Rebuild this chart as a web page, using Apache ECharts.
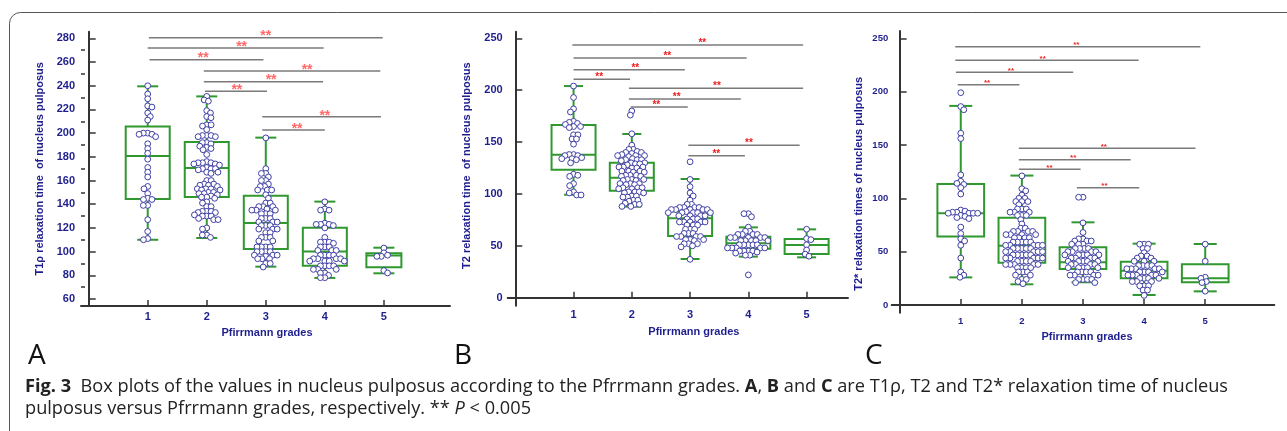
<!DOCTYPE html>
<html>
<head>
<meta charset="utf-8">
<script src="https://cdn.jsdelivr.net/npm/echarts@6/dist/echarts.min.js"></script>
<style>
  html, body { margin: 0; padding: 0; background: #fff; }
  #chart { width: 1287px; height: 431px; }
</style>
</head>
<body>
<div id="chart"></div>
<script>
// grades on the x axis
var grades = [1, 2, 3, 4, 5];

// tick labels
var t1rhoTicks = [60, 80, 100, 120, 140, 160, 180, 200, 220, 240, 260, 280];
var t1rhoMinorTicks = [70, 90, 110, 130, 150, 170, 190, 210, 230, 250, 270];
var t2Ticks = [0, 50, 100, 150, 200, 250];
var t2starTicks = [0, 50, 100, 150, 200, 250];

// box plots: [min, Q1, median, Q3, max] per grade
var t1rhoBox = [[110, 144.4, 180.7, 205.5, 239.5], [111.5, 146.1, 170.6, 192.5, 231], [87.3, 102.2, 124.2, 147.2, 196.2], [77.8, 88.1, 100, 120.2, 142.2], [81.7, 86.8, 96.7, 98.6, 103.3]];
var t2Box = [[99.3, 123.4, 137.9, 166.5, 204], [87.8, 103.2, 115.7, 130.2, 157.8], [37.3, 59.5, 76.5, 83.2, 114.4], [39.6, 47.3, 52.4, 58.8, 67.8], [38.9, 42.1, 50.8, 56.6, 65.9]];
var t2starBox = [[25.9, 64.1, 85.9, 113.4, 186.6], [19.4, 39.7, 55.6, 81.9, 121.3], [21.3, 33.8, 40, 54.1, 77.5], [9.4, 25, 32.2, 40.6, 57.5], [12.8, 21.3, 25, 38.1, 57.2]];

// individual values, T1rho
var t1rhoGrade1 = [240, 233, 229, 223, 222, 217, 214, 211, 200, 200, 199, 199, 197, 191, 187, 183, 178, 171, 167, 163, 155, 153, 149, 145, 144, 144, 139, 139, 127, 117, 111, 110];
var t1rhoGrade2 = [231, 228, 227, 219, 217, 214, 213, 207, 207, 206, 203, 198, 198, 198, 197, 197, 192, 192, 191, 189, 188, 187, 186, 182, 176, 175, 175, 175, 174, 174, 173, 171, 170, 170, 170, 169, 167, 167, 166, 160, 160, 157, 157, 156, 156, 155, 153, 153, 153, 152, 152, 150, 150, 149, 149, 148, 147, 146, 146, 145, 142, 141, 138, 138, 134, 134, 134, 133, 133, 131, 130, 130, 130, 128, 127, 127, 120, 119, 114, 114, 112];
var t1rhoGrade3 = [196, 170, 166, 166, 163, 160, 160, 157, 155, 155, 152, 152, 152, 148, 145, 141, 141, 138, 138, 138, 136, 135, 135, 135, 132, 132, 132, 128, 128, 128, 125, 125, 125, 122, 122, 122, 119, 119, 119, 116, 116, 112, 112, 112, 109, 109, 104, 104, 104, 104, 100, 100, 100, 100, 97, 97, 97, 96, 94, 94, 94, 90, 90, 87];
var t1rhoGrade4 = [142, 136, 135, 135, 124, 123, 123, 123, 122, 120, 112, 108, 108, 108, 107, 104, 104, 104, 101, 101, 101, 97, 97, 97, 97, 94, 94, 94, 94, 92, 92, 92, 92, 88, 88, 88, 88, 85, 85, 85, 82, 82, 80, 78, 78];
var t1rhoGrade5 = [103, 99, 97, 96, 96, 84, 82];

// individual values, T2
var t2Grade1 = [204, 193, 182, 179, 170, 169, 168, 167, 165, 165, 164, 157, 157, 153, 153, 148, 138, 138, 137, 137, 135, 134, 134, 133, 130, 119, 118, 117, 110, 108, 102, 101, 99, 99];
var t2Grade2 = [180, 176, 158, 147, 143, 143, 141, 140, 140, 139, 138, 137, 137, 137, 136, 134, 133, 133, 133, 132, 130, 130, 129, 129, 128, 126, 126, 126, 125, 125, 122, 122, 122, 121, 121, 118, 118, 118, 117, 117, 114, 114, 114, 113, 113, 110, 110, 110, 109, 109, 106, 106, 106, 105, 105, 102, 102, 102, 101, 101, 98, 98, 97, 97, 94, 94, 93, 91, 90, 90, 88, 88];
var t2Grade3 = [131, 114, 107, 101, 98, 94, 90, 90, 87, 87, 87, 87, 85, 85, 85, 85, 85, 83, 82, 82, 82, 82, 82, 79, 79, 79, 79, 76, 76, 76, 73, 73, 73, 73, 73, 70, 70, 70, 66, 66, 66, 62, 62, 62, 59, 59, 59, 59, 56, 56, 56, 55, 52, 52, 52, 50, 49, 37];
var t2Grade4 = [81, 81, 78, 68, 64, 64, 61, 61, 61, 61, 58, 58, 58, 58, 58, 55, 55, 55, 55, 55, 51, 51, 51, 51, 51, 48, 48, 48, 48, 48, 45, 45, 45, 45, 44, 43, 41, 41, 22];
var t2Grade5 = [66, 57, 56, 51, 46, 42, 40];

// individual values, T2*
var t2starGrade1 = [199, 186, 183, 161, 156, 122, 116, 114, 113, 110, 104, 89, 88, 87, 87, 86, 86, 86, 86, 84, 83, 82, 81, 73, 67, 62, 60, 56, 44, 31, 28, 26];
var t2starGrade2 = [121, 109, 107, 103, 100, 100, 97, 97, 97, 94, 90, 90, 90, 87, 87, 87, 84, 84, 84, 80, 76, 72, 72, 69, 69, 69, 69, 66, 66, 66, 66, 63, 63, 63, 63, 59, 59, 59, 59, 59, 56, 56, 56, 56, 56, 53, 53, 53, 53, 53, 50, 50, 50, 50, 50, 47, 47, 47, 47, 47, 44, 44, 44, 44, 44, 41, 41, 41, 41, 38, 38, 38, 38, 38, 35, 35, 35, 35, 31, 31, 31, 28, 28, 24, 24, 22, 20];
var t2starGrade3 = [101, 101, 77, 68, 62, 62, 60, 60, 60, 57, 57, 57, 53, 53, 53, 53, 50, 50, 50, 50, 47, 47, 47, 47, 47, 44, 44, 44, 44, 41, 41, 41, 41, 41, 38, 38, 38, 38, 35, 35, 35, 35, 35, 31, 31, 31, 31, 28, 28, 28, 28, 24, 24, 24, 24, 21, 21];
var t2starGrade4 = [57, 57, 57, 53, 53, 49, 46, 46, 44, 44, 41, 41, 41, 37, 37, 37, 37, 34, 34, 34, 34, 34, 31, 31, 31, 31, 28, 28, 28, 28, 28, 25, 25, 25, 25, 22, 22, 22, 18, 18, 18, 14, 14, 9];
var t2starGrade5 = [57, 41, 26, 25, 22, 21, 13];

// significance bars: [from grade, to grade, level, star position]
var t1rhoBars = [[1.02, 4.98, 280.5, 3.0], [1.0, 3.98, 271.8, 2.59], [1.03, 2.96, 262, 1.94], [1.95, 4.94, 252.4, 3.7], [1.95, 3.97, 243.4, 3.09], [1.97, 3.02, 235.3, 2.51], [2.94, 4.95, 213.8, 4.0], [2.94, 4.0, 202.6, 3.53]];
var t2Bars = [[0.98, 4.94, 243.5, 3.21], [1.0, 3.97, 231, 2.61], [1.0, 2.91, 219.8, 2.06], [1.0, 1.97, 210.5, 1.44], [1.95, 4.94, 201.8, 3.46], [1.95, 3.87, 191.5, 2.77], [1.98, 2.96, 183.8, 2.42], [2.97, 4.88, 146.9, 4.01], [2.97, 3.94, 136.9, 3.45]];
var t2starBars = [[0.91, 4.92, 242.1, 2.89], [0.91, 3.91, 229.4, 2.34], [0.92, 2.84, 218.1, 1.82], [0.95, 1.96, 206.5, 1.43], [1.95, 4.84, 146.9, 3.34], [1.95, 3.78, 136.2, 2.84], [1.95, 2.96, 127.2, 2.45], [2.90, 3.92, 110, 3.35]];

var NAVY = '#1e1e8e';
var GREEN = '#2f982f';
var DOT = '#3f3fa5';
var FONT = 'Liberation Sans, Arial, sans-serif';
var CAPTION_FONT = 'Open Sans, sans-serif';

var chart = echarts.init(document.getElementById('chart'), null, {renderer: 'canvas'});

// panel geometry
var panels = [
    {grid: {left: 81, top: 31.7, width: 369, height: 274.3}, xMin: -0.13, xMax: 6.12, yMin: 54.1, yMax: 285.6,
        ticks: t1rhoTicks, labelSize: 11, labelMargin: 6, xLabelMargin: 5, xLabelSize: 11,
        name: 'T1\u03c1 relaxation time  of nucleus pulposus', nameGap: 36, namePad: [0, 0, 0, 0], xNameGap: 21, xNamePad: [0, 0, 0, 3],
        box: t1rhoBox, boxWidth: [44, 44, 44, 44, 35], capWidth: 21,
        dots: [t1rhoGrade1, t1rhoGrade2, t1rhoGrade3, t1rhoGrade4, t1rhoGrade5],
        bars: t1rhoBars, starColor: '#ff6b6b', starSize: 14, starGap: 0},
    {grid: {left: 507.7, top: 31.7, width: 340.3, height: 274}, xMin: -0.13, xMax: 5.71, yMin: -7.7, yMax: 256.4,
        ticks: t2Ticks, labelSize: 11, labelMargin: 5, xLabelMargin: 4, xLabelSize: 11,
        name: 'T2 relaxation time  of nucleus pulposus', nameGap: 35, namePad: [0, 0, 0, 6], xNameGap: 21, xNamePad: [0, 0, 0, 32],
        box: t2Box, boxWidth: [44, 44, 44, 44, 44], capWidth: 19,
        dots: [t2Grade1, t2Grade2, t2Grade3, t2Grade4, t2Grade5],
        bars: t2Bars, starColor: '#ee1c1c', starSize: 10, starGap: 1},
    {grid: {left: 891.7, top: 31, width: 382.6, height: 281.7}, xMin: -0.13, xMax: 6.13, yMin: -7.2, yMax: 256.8,
        ticks: t2starTicks, labelSize: 9.5, labelMargin: 3.5, xLabelMargin: 4, xLabelSize: 9.5,
        name: 'T2* relaxation times of nucleus pulposus', nameGap: 27, namePad: [0, 24, 0, 0], xNameGap: 15, xNamePad: [0, 0, 0, 8],
        box: t2starBox, boxWidth: [46.7, 46.7, 46.7, 46.7, 46.7], capWidth: 23,
        dots: [t2starGrade1, t2starGrade2, t2starGrade3, t2starGrade4, t2starGrade5],
        bars: t2starBars, starColor: '#ee2222', starSize: 8, starGap: 1}
];

// beeswarm placement in pixel space, from the axis coordinates
function placeDots(data, api, d) {
    var out = [];
    var groups = {};
    data.forEach(function (item, i) {
        var p = api.coord(item);
        (groups[item[0]] = groups[item[0]] || []).push({i: i, cx: p[0], cy: p[1]});
    });
    Object.keys(groups).forEach(function (k) {
        var pts = groups[k].sort(function (a, b) { return a.cy - b.cy; });
        var placed = [];
        pts.forEach(function (p, n) {
            var cands = [0];
            placed.forEach(function (q) {
                var dy = p.cy - q.cy;
                if (Math.abs(dy) < d) {
                    var dx = Math.sqrt(d * d - dy * dy);
                    cands.push(q.dx + dx, q.dx - dx);
                }
            });
            var sign = n % 2 ? 1 : -1;
            cands.sort(function (a, b) { return (Math.abs(a) - Math.abs(b)) || (sign * (a - b)); });
            var best = 0;
            for (var c = 0; c < cands.length; c++) {
                var ok = placed.every(function (q) {
                    var ex = cands[c] - q.dx, ey = p.cy - q.cy;
                    return ex * ex + ey * ey >= d * d - 0.01;
                });
                if (ok) { best = cands[c]; break; }
            }
            p.dx = best;
            placed.push(p);
            out[p.i] = [p.cx + best, p.cy];
        });
    });
    return out;
}

var xAxes = [], yAxes = [], grids = [], series = [];

panels.forEach(function (pn, k) {
    grids.push(pn.grid);
    xAxes.push({
        type: 'value', gridIndex: k, min: pn.xMin, max: pn.xMax,
        name: 'Pfirrmann grades', nameLocation: 'middle', nameGap: pn.xNameGap,
        nameTextStyle: {color: NAVY, fontWeight: 'bold', fontSize: 11, fontFamily: FONT, padding: pn.xNamePad},
        axisLine: {lineStyle: {color: '#333', width: 2}},
        axisTick: {inside: true, length: 6, customValues: grades, lineStyle: {color: '#333', width: 1.5}},
        axisLabel: {customValues: grades, color: NAVY, fontWeight: 'bold', fontSize: pn.xLabelSize, fontFamily: FONT, margin: pn.xLabelMargin},
        splitLine: {show: false}
    });
    yAxes.push({
        type: 'value', gridIndex: k, min: pn.yMin, max: pn.yMax,
        name: pn.name, nameLocation: 'middle', nameGap: pn.nameGap,
        nameTextStyle: {color: NAVY, fontWeight: 'bold', fontSize: 11, fontFamily: FONT, padding: pn.namePad},
        axisLine: {show: true, lineStyle: {color: '#333', width: 2}},
        axisTick: {show: true, inside: true, length: 7, customValues: pn.ticks, lineStyle: {color: '#333', width: 1.5}},
        axisLabel: {customValues: pn.ticks, color: NAVY, fontWeight: 'bold', fontSize: pn.labelSize, fontFamily: FONT, margin: pn.labelMargin},
        splitLine: {show: false}
    });

    // box and whiskers
    var boxData = pn.box.map(function (b, i) { return [grades[i]].concat(b); });
    series.push({
        type: 'custom', xAxisIndex: k, yAxisIndex: k, data: boxData, z: 2,
        renderItem: function (params, api) {
            var g = api.value(0);
            var lo = api.coord([g, api.value(1)]), q1 = api.coord([g, api.value(2)]),
                md = api.coord([g, api.value(3)]), q3 = api.coord([g, api.value(4)]), hi = api.coord([g, api.value(5)]);
            var x = lo[0], bw = pn.boxWidth[params.dataIndex], cw = pn.capWidth;
            var st = {stroke: GREEN, lineWidth: 2, fill: 'none'};
            return {type: 'group', children: [
                {type: 'line', shape: {x1: x, y1: hi[1], x2: x, y2: q3[1]}, style: st},
                {type: 'line', shape: {x1: x, y1: q1[1], x2: x, y2: lo[1]}, style: st},
                {type: 'line', shape: {x1: x - cw / 2, y1: hi[1], x2: x + cw / 2, y2: hi[1]}, style: st},
                {type: 'line', shape: {x1: x - cw / 2, y1: lo[1], x2: x + cw / 2, y2: lo[1]}, style: st},
                {type: 'rect', shape: {x: x - bw / 2, y: q3[1], width: bw, height: q1[1] - q3[1]}, style: st},
                {type: 'line', shape: {x1: x - bw / 2, y1: md[1], x2: x + bw / 2, y2: md[1]}, style: st}
            ]};
        }
    });

    // dots
    var dotData = [];
    pn.dots.forEach(function (vals, gi) {
        vals.forEach(function (v) { dotData.push([grades[gi], v]); });
    });
    var layout = null;
    series.push({
        type: 'custom', xAxisIndex: k, yAxisIndex: k, data: dotData, z: 3,
        renderItem: function (params, api) {
            if (!layout || params.dataIndexInside === 0) layout = placeDots(dotData, api, 4.4);
            var p = layout[params.dataIndex];
            return {type: 'circle', shape: {cx: p[0], cy: p[1], r: 2.9},
                style: {fill: '#fff', stroke: DOT, lineWidth: 1}};
        }
    });

    // significance bars
    series.push({
        type: 'custom', xAxisIndex: k, yAxisIndex: k, data: pn.bars, z: 4,
        renderItem: function (params, api) {
            var y = api.value(2);
            var a = api.coord([api.value(0), y]), b = api.coord([api.value(1), y]), s = api.coord([api.value(3), y]);
            return {type: 'group', children: [
                {type: 'line', shape: {x1: a[0], y1: a[1], x2: b[0], y2: b[1]}, style: {stroke: '#7a7a7a', lineWidth: 1.5}},
                {type: 'text', x: s[0], y: s[1] + pn.starSize * 0.42 - pn.starGap,
                    style: {text: '**', fill: pn.starColor, fontSize: pn.starSize, fontWeight: 'bold', fontFamily: FONT, align: 'center', verticalAlign: 'bottom'}}
            ]};
        }
    });
});

// minor ticks of the T1rho axis
yAxes.push({
    type: 'value', gridIndex: 0, min: panels[0].yMin, max: panels[0].yMax, position: 'left',
    axisLine: {show: false},
    axisTick: {show: true, inside: true, length: 4, customValues: t1rhoMinorTicks, lineStyle: {color: '#333', width: 1.5}},
    axisLabel: {show: false}, splitLine: {show: false}
});

var option = {
    animation: false,
    backgroundColor: '#fff',
    grid: grids,
    xAxis: xAxes,
    yAxis: yAxes,
    series: series,
    graphic: [
        {type: 'rect', shape: {x: 9.5, y: 12.5, width: 1300, height: 440, r: 11}, style: {fill: 'none', stroke: '#555', lineWidth: 1}, silent: true},
        {type: 'text', left: 28, top: 342, style: {text: 'A', fontSize: 28, fontFamily: CAPTION_FONT, fill: '#111'}},
        {type: 'text', left: 454, top: 342, style: {text: 'B', fontSize: 28, fontFamily: CAPTION_FONT, fill: '#111'}},
        {type: 'text', left: 865, top: 342, style: {text: 'C', fontSize: 28, fontFamily: CAPTION_FONT, fill: '#111'}},
        {type: 'text', left: 25, top: 376, style: {
            text: '{b|Fig. 3}  Box plots of the values in nucleus pulposus according to the Pfrrmann grades. {b|A}, {b|B} and {b|C} are T1\u03c1, T2 and T2* relaxation time of nucleus\npulposus versus Pfrrmann grades, respectively. ** {i|P} < 0.005',
            fontSize: 18.2, fontFamily: CAPTION_FONT, fill: '#222', lineHeight: 22,
            rich: {
                b: {fontSize: 18.2, fontFamily: CAPTION_FONT, fontWeight: 'bold', fill: '#222', lineHeight: 22},
                i: {fontSize: 18.2, fontFamily: CAPTION_FONT, fontStyle: 'italic', fill: '#222', lineHeight: 22}
            }
        }}
    ]
};

chart.setOption(option);
</script>
</body>
</html>
